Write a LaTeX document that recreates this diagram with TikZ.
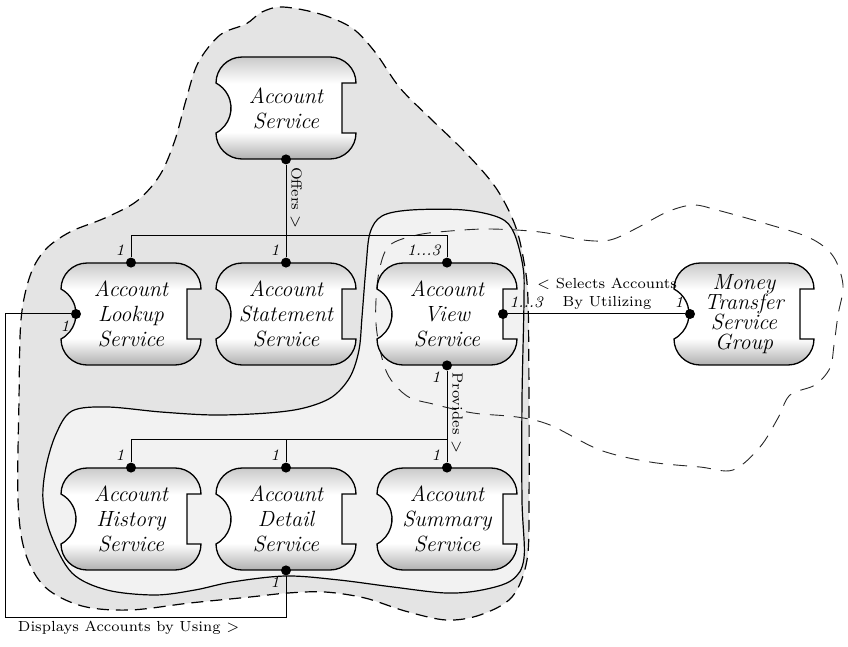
\documentclass[tikz,border=0pt]{standalone}
\usepackage{tikz}
\usetikzlibrary{positioning}

\definecolor{regiondark}{gray}{0.895}
\definecolor{regionlight}{gray}{0.95}

\pgfdeclarelayer{regions}
\pgfdeclarelayer{boxes}
\pgfsetlayers{regions,boxes,main}

% gray at the edges, white band through the middle
\pgfdeclareverticalshading{svcshade}{100bp}{color(0bp)=(gray!62); color(25bp)=(gray!62); color(38bp)=(white); color(62bp)=(white); color(75bp)=(gray!42); color(100bp)=(gray!42)}

% service outline round a node: round corners, hollow on the left, notch on the right
\newcommand{\svcoutline}[1]{%
  \begin{scope}[shift={(#1.center)}]
    \shade[shading=svcshade, draw=black, line width=0.65pt]
      (-44,51) -- (44,51) arc[start angle=90, end angle=0, radius=26]
      -- (56,25) -- (56,-25) -- (70,-25)
      arc[start angle=0, end angle=-90, radius=26]
      -- (-44,-51) arc[start angle=270, end angle=180, radius=26]
      arc[start angle=-62, end angle=62, radius=28.3]
      arc[start angle=180, end angle=90, radius=26] -- cycle;
  \end{scope}}

\begin{document}
\begin{tikzpicture}[x=0.5pt, y=0.5pt,
    svc/.style={minimum width=70pt, minimum height=51pt, inner sep=0pt,
      align=center, font=\fontsize{11}{12.5}\selectfont\itshape},
    dot/.style={circle, fill=black, inner sep=0pt, minimum size=5pt},
    mult/.style={font=\fontsize{8}{9}\selectfont\itshape, inner sep=1.2pt},
    rel/.style={font=\fontsize{7.3}{9}\selectfont, inner sep=2pt},
    conn/.style={line width=0.5pt},
    every label/.style={mult},
    label distance=0pt]
  \useasboundingbox (0,0) rectangle (848,-647);

  \begin{pgfonlayer}{regions}
  % outer group
  \draw[fill=regiondark, dash pattern=on 6pt off 3.5pt, line width=0.6pt]
    plot[smooth cycle, tension=0.55] coordinates {
      (283,-7) (320,-14) (352,-28) (375,-52) (400,-88) (432,-120) (466,-153)
      (496,-188) (515,-225) (524,-262) (528,-300) (529,-400) (529,-500)
      (527,-560) (512,-597) (480,-615) (446,-620) (405,-611) (365,-598)
      (325,-592) (288,-593) (250,-597) (190,-603) (130,-610) (82,-606)
      (45,-587) (25,-552) (18,-500) (19,-400) (21,-320) (30,-276) (45,-250)
      (70,-232) (105,-218) (137,-201) (160,-175) (175,-140) (186,-100)
      (198,-63) (220,-35) (246,-24) (262,-12)};

  % view group
  \draw[fill=regionlight, line width=0.6pt]
    plot[smooth cycle, tension=0.55] coordinates {
      (411,-210) (464,-210) (500,-218) (514,-233) (523,-267) (524,-300)
      (522,-400) (522,-500) (524,-558) (512,-580) (482,-590) (446,-593)
      (393,-587) (339,-580) (286,-576) (232,-582) (195,-590) (155,-595)
      (107,-590) (72,-573) (51,-535) (43,-500) (46,-467) (56,-434) (72,-411)
      (107,-407) (161,-412) (214,-415) (268,-413) (304,-408) (332,-397)
      (350,-377) (359,-350) (362,-317) (366,-267) (370,-233) (382,-216)};

  % money transfer group
  \draw[black!85, dash pattern=on 7pt off 5pt, line width=0.45pt]
    plot[smooth cycle, tension=0.55] coordinates {
      (390,-245) (417,-235) (450,-231) (490,-229) (540,-232) (583,-240)
      (610,-240) (635,-229) (667,-212) (693,-205) (717,-210) (767,-224)
      (810,-238) (833,-256) (843,-285) (838,-315) (834,-345) (830,-368)
      (815,-385) (790,-395) (778,-418) (760,-447) (733,-470) (700,-467)
      (650,-462) (600,-450) (550,-425) (517,-417) (473,-413) (433,-404)
      (407,-396) (387,-373) (377,-333) (376,-300) (380,-267)};
  \end{pgfonlayer}

  \node[svc] (acct) at (286,-108) {Account\\Service};
  \node[svc] (lookup) at (131,-314) {Account\\Lookup\\Service};
  \node[svc] (stmt) at (286,-314) {Account\\Statement\\Service};
  \node[svc] (view) at (447,-314) {Account\\View\\Service};
  \node[svc, font=\fontsize{11}{10}\selectfont\itshape] (money) at (744,-314) {Money\\Transfer\\Service\\Group};
  \node[svc] (hist) at (131,-519) {Account\\History\\Service};
  \node[svc] (detail) at (286,-519) {Account\\Detail\\Service};
  \node[svc] (summ) at (447,-519) {Account\\Summary\\Service};

  \begin{pgfonlayer}{boxes}
  \foreach \n in {acct,lookup,stmt,view,money,hist,detail,summ}
    {\svcoutline{\n}}
  \end{pgfonlayer}

  % connection points
  \node[dot] (acctB) at (acct.south) {};
  \node[dot, label={above left:1}] (lookupT) at (lookup.north) {};
  \node[dot, label={below left:1}] (lookupL) at ([xshift=-27.5pt]lookup.center) {};
  \node[dot, label={above left:1}] (stmtT) at (stmt.north) {};
  \node[dot, label={above left:1...3}] (viewT) at (view.north) {};
  \node[dot, label={above right:1...3}] (viewR) at ([xshift=28pt]view.center) {};
  \node[dot, label={below left:1}] (viewB) at (view.south) {};
  \node[dot, label={above left:1}] (moneyL) at ([xshift=-27pt]money.center) {};
  \node[dot, label={above left:1}] (histT) at (hist.north) {};
  \node[dot, label={above left:1}] (detailT) at (detail.north) {};
  \node[dot, label={below left:1}] (detailB) at (detail.south) {};
  \node[dot, label={above left:1}] (summT) at (summ.north) {};

  \coordinate (offj) at ([yshift=13.5pt]view.north);
  \coordinate (provj) at ([yshift=14pt]summ.north);
  \coordinate (dispc) at (5,-617);

  \draw[conn] (acctB) -- node[rel, pos=0.36, anchor=south, rotate=-90] (offers) {Offers >} (stmtT);
  \draw[conn] (lookupT) |- (offj) -- (viewT);

  \draw[conn] (viewB) -- node[rel, pos=0.46, anchor=south, rotate=-90] (provides) {Provides >} (summT);
  \draw[conn] (histT) |- (provj);
  \draw[conn] (detailT) -- (detailT |- provj);

  \draw[conn] (viewR) -- node[rel, above, pos=0.56, align=center] (selects) {< Selects Accounts\\By Utilizing} (moneyL);

  \draw[conn] (detailB) |- node[rel, below, pos=0.78] (displays) {Displays Accounts by Using >} (dispc) |- (lookupL);
\end{tikzpicture}
\end{document}
